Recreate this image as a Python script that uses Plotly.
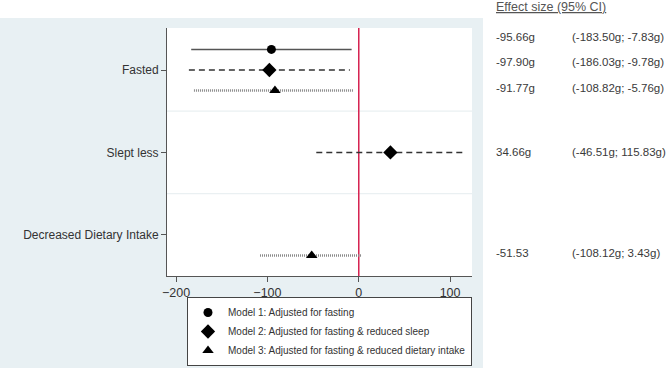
import plotly.graph_objects as go

# ---- data ----
categories = ["Fasted", "Slept less", "Decreased Dietary Intake"]
models = ["Model 1: Adjusted for fasting",
          "Model 2: Adjusted for fasting & reduced sleep",
          "Model 3: Adjusted for fasting & reduced dietary intake"]
# (category index, model index, estimate, lower, upper) as drawn
est_cat = [0, 0, 0, 1, 2]
est_model = [0, 1, 2, 1, 2]
est_val = [-95.66, -97.90, -91.77, 34.66, -51.53]
est_lo = [-183.50, -186.03, -180.5, -46.51, -108.12]
est_hi = [-7.83, -9.78, -5.76, 115.83, 3.43]
effect_text = ["-95.66g", "-97.90g", "-91.77g", "34.66g", "-51.53"]
ci_text = ["(-183.50g; -7.83g)", "(-186.03g; -9.78g)", "(-108.82g; -5.76g)",
           "(-46.51g; 115.83g)", "(-108.12g; 3.43g)"]
x_ticks = [-200, -100, 0, 100]

# ---- styles ----
W, H = 669, 368
L, R, T, B = 167, 472, 28, 276
pw, ph = R - L, B - T

def px_x(p):
    return (p - L) / pw

def px_y(p):
    return (B - p) / ph

symbols = ["circle", "diamond", "triangle-up"]
msizes = [9, 11, 10]
line_styles = [dict(color="#555555", width=1.5, dash="solid"),
               dict(color="#333333", width=1.5, dash="6px,4px"),
               dict(color="#8a8a8a", width=2.5, dash="1px,1px")]

def row_y(c, m):
    return c * 4 + (m - 1)

fig = go.Figure()

for m in range(3):
    xs, ys = [], []
    for i in range(len(est_val)):
        if est_model[i] == m:
            y = row_y(est_cat[i], m)
            xs += [est_lo[i], est_hi[i], None]
            ys += [y, y, None]
    fig.add_trace(go.Scatter(x=xs, y=ys, mode="lines", line=line_styles[m],
                             showlegend=False, hoverinfo="skip"))

for m in range(3):
    xs = [est_val[i] for i in range(len(est_val)) if est_model[i] == m]
    ys = [row_y(est_cat[i], m) for i in range(len(est_val)) if est_model[i] == m]
    fig.add_trace(go.Scatter(x=xs, y=ys, mode="markers", name=models[m],
                             marker=dict(symbol=symbols[m], size=msizes[m], color="black")))

shapes = [
    dict(type="rect", xref="paper", yref="paper", x0=px_x(0), x1=px_x(483),
         y0=px_y(368), y1=px_y(18), fillcolor="#e8f0f3", line=dict(width=0), layer="below"),
    dict(type="rect", xref="paper", yref="paper", x0=0, x1=1, y0=0, y1=1,
         fillcolor="white", line=dict(width=0), layer="below"),
    dict(type="line", xref="paper", yref="y", x0=0, x1=1, y0=2, y1=2,
         line=dict(color="#eaf0f2", width=1.2), layer="below"),
    dict(type="line", xref="paper", yref="y", x0=0, x1=1, y0=6, y1=6,
         line=dict(color="#eaf0f2", width=1.2), layer="below"),
    dict(type="line", xref="x", yref="paper", x0=0, x1=0, y0=0, y1=1,
         line=dict(color="#d6204f", width=1.5), layer="below"),
]

annotations = [dict(xref="paper", yref="paper", x=px_x(494), y=px_y(7), xanchor="left",
                    yanchor="middle", showarrow=False, text="Effect size (95% CI)",
                    font=dict(size=12.5, color="#555555", lineposition="under"))]
text_rows_px = [37, 62, 88, 152, 253]
for i in range(len(effect_text)):
    annotations.append(dict(xref="paper", yref="paper", x=px_x(494), y=px_y(text_rows_px[i]),
                            xanchor="left", yanchor="middle", showarrow=False,
                            text=effect_text[i], font=dict(size=11.5, color="#3a3a3a")))
    annotations.append(dict(xref="paper", yref="paper", x=px_x(570), y=px_y(text_rows_px[i]),
                            xanchor="left", yanchor="middle", showarrow=False,
                            text=ci_text[i], font=dict(size=11.5, color="#3a3a3a")))

fig.update_layout(
    width=W, height=H,
    margin=dict(l=L, r=W - R, t=T, b=H - B, pad=0, autoexpand=False),
    paper_bgcolor="white", plot_bgcolor="white",
    font=dict(family="Arial, Liberation Sans, sans-serif", color="#333333", size=12),
    shapes=shapes, annotations=annotations,
    showlegend=True,
    legend=dict(x=px_x(187), y=px_y(297), xanchor="left", yanchor="top",
                bgcolor="white", bordercolor="#444444", borderwidth=1,
                font=dict(size=10, color="#333333"), tracegroupgap=0, itemwidth=30),
    xaxis=dict(range=[-210, 124], tickvals=x_ticks, showgrid=False, zeroline=False,
               showline=True, linecolor="#555555", linewidth=1,
               ticks="outside", ticklen=5, tickcolor="#555555",
               tickfont=dict(size=12.5, color="#333333")),
    yaxis=dict(range=[10, -2.04], tickvals=[0, 4, 8], ticktext=categories,
               showgrid=False, zeroline=False, showline=True, linecolor="#555555",
               linewidth=1, ticks="outside", ticklen=5, tickcolor="#555555",
               tickfont=dict(size=12, color="#333333")),
)

fig.write_html("out.html", config={"displayModeBar": False},
               post_script="document.body.style.margin='0';document.body.style.overflow='hidden';")
